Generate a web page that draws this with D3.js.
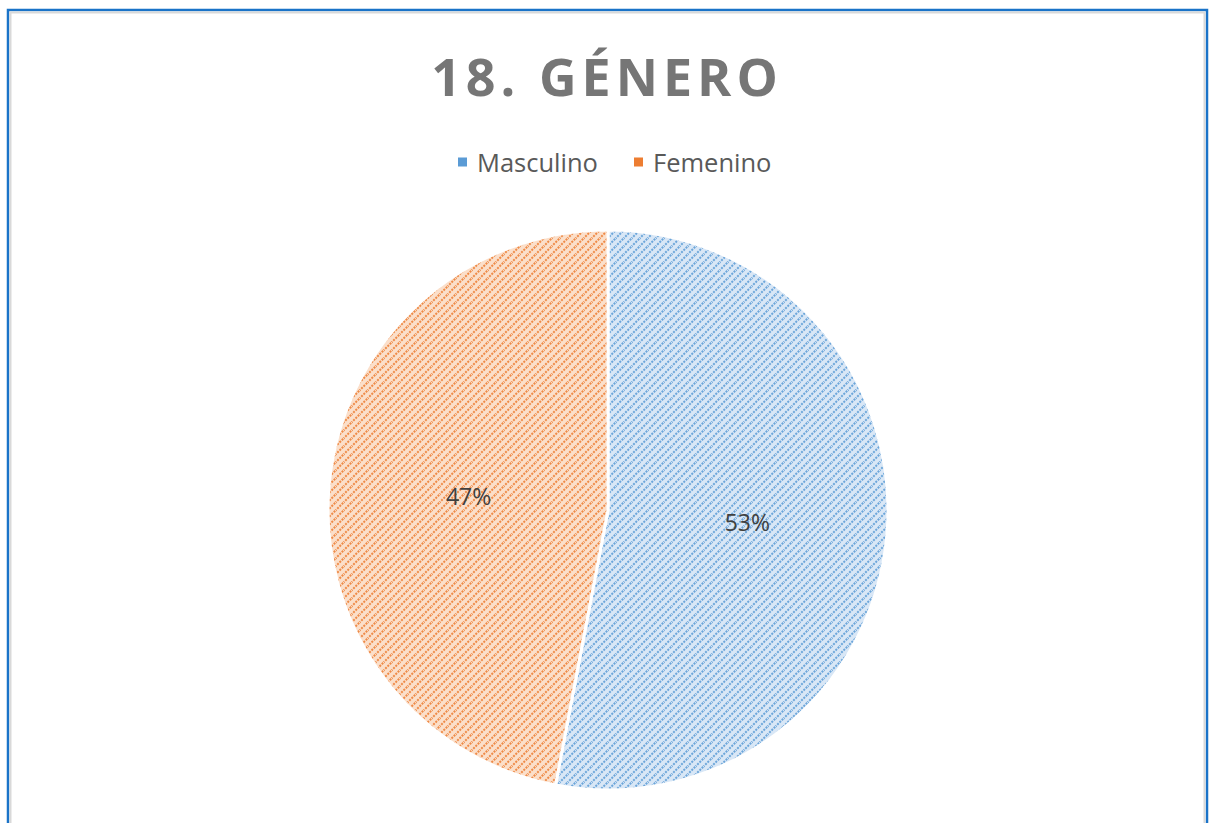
<!DOCTYPE html>
<html><head><meta charset="utf-8">
<script src="https://cdn.jsdelivr.net/npm/d3@7"></script>
<style>html,body{margin:0;padding:0;background:#fff;overflow:hidden}</style>
</head><body>
<svg id="c" width="1209" height="823"></svg>
<script>
const categories = ["Masculino", "Femenino"];
const values = [53, 47];
const labels = ["53%", "47%"];
const title = "18. GÉNERO";
const colors = ["#5b9bd5", "#ed7d31"];
const bgColors = ["#d9e7f6", "#fbdfca"];

const svg = d3.select("#c");
const W = 1209, H = 823;

// frame
svg.append("rect").attr("x", 8).attr("y", 10).attr("width", W - 8 - 2).attr("height", H + 20)
  .attr("fill", "#fff").attr("stroke", "#1a73c8").attr("stroke-width", 2.5);
svg.append("rect").attr("x", 10.5).attr("y", 12.5).attr("width", W - 15).attr("height", H + 20)
  .attr("fill", "none").attr("stroke", "#d9d9d9").attr("stroke-width", 2);

const defs = svg.append("defs");
categories.forEach((c, i) => {
  const p = defs.append("pattern").attr("id", "pat" + i).attr("patternUnits", "userSpaceOnUse")
    .attr("width", 8).attr("height", 8);
  p.append("rect").attr("width", 8).attr("height", 8).attr("fill", bgColors[i]);
  p.append("path").attr("d", "M-1,9 L9,-1 M-1,1 L1,-1 M7,9 L9,7")
    .attr("stroke", colors[i]).attr("stroke-width", 2).attr("stroke-opacity", 0.85)
    .attr("stroke-dasharray", "2,1.2");
});

svg.append("text").attr("x", 607).attr("y", 96).attr("text-anchor", "middle")
  .attr("font-family", "Open Sans").attr("font-weight", "bold").attr("font-size", 52)
  .attr("letter-spacing", 5).attr("fill", "#767676").text(title);

const legendX = d3.scaleOrdinal().domain(categories).range([458, 634]);
const lg = svg.append("g").selectAll("g").data(categories).join("g")
  .attr("transform", d => `translate(${legendX(d)},162)`);
lg.append("rect").attr("x", 0).attr("y", -4.5).attr("width", 9).attr("height", 9)
  .attr("fill", (d, i) => colors[i]);
lg.append("text").attr("x", 19).attr("y", 9.5).attr("font-family", "Open Sans").attr("font-size", 25.5)
  .attr("fill", "#595959").text(d => d);

const cx = 608, cy = 510, r = 280;
const pie = d3.pie().sort(null).value(d => d)(values);
const arc = d3.arc().innerRadius(0).outerRadius(r);
const g = svg.append("g").attr("transform", `translate(${cx},${cy})`);
g.selectAll("path").data(pie).join("path").attr("d", arc)
  .attr("fill", (d, i) => `url(#pat${i})`).attr("stroke", "#fff").attr("stroke-width", 3);
const labArc = d3.arc().innerRadius(0).outerRadius(r);
g.selectAll("text").data(pie).join("text")
  .attr("transform", d => `translate(${labArc.centroid(d)})`)
  .attr("text-anchor", "middle").attr("dy", "0.35em")
  .attr("font-family", "Open Sans").attr("font-size", 23).attr("fill", "#404040")
  .text((d, i) => labels[i]);
</script>
</body></html>
